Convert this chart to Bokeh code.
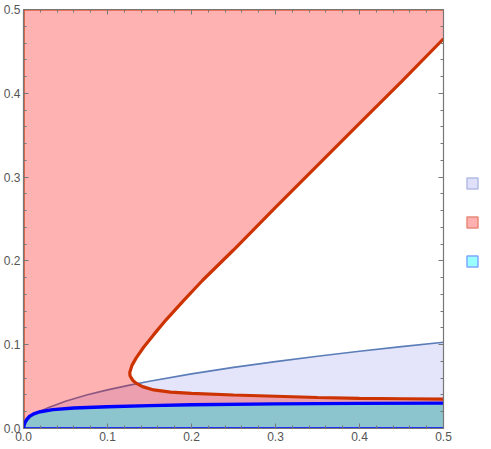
from bokeh.plotting import figure
from bokeh.models import Range1d, FixedTicker, LinearAxis
from bokeh.layouts import row
from bokeh.embed import file_html
from bokeh.resources import INLINE

# ---------------- data ----------------
x_min, x_max = 0.0, 0.5
y_min, y_max = 0.0, 0.5

major_ticks = [0.0, 0.1, 0.2, 0.3, 0.4, 0.5]
minor_ticks = [0.02, 0.04, 0.06, 0.08, 0.12, 0.14, 0.16, 0.18, 0.22, 0.24, 0.26,
               0.28, 0.32, 0.34, 0.36, 0.38, 0.42, 0.44, 0.46, 0.48]
tick_labels = ["0.0", "0.1", "0.2", "0.3", "0.4", "0.5"]

# lavender region upper boundary
lav_x = [0.0, 0.002, 0.005, 0.01, 0.02, 0.03, 0.05, 0.075, 0.1, 0.125, 0.15, 0.2,
         0.25, 0.3, 0.35, 0.4, 0.45, 0.5]
lav_y = [0.0, 0.0065, 0.0103, 0.0146, 0.0206, 0.0252, 0.0326, 0.0399, 0.0461,
         0.0515, 0.0564, 0.0652, 0.0729, 0.0798, 0.0862, 0.0921, 0.0977, 0.103]

# blue (cyan region) upper boundary
blue_x = [0.0, 0.0005, 0.001, 0.002, 0.004, 0.007, 0.012, 0.02, 0.035, 0.06, 0.1,
          0.15, 0.2, 0.3, 0.4, 0.5]
blue_y = [0.0, 0.003, 0.005, 0.0075, 0.0110, 0.0145, 0.0175, 0.0200, 0.0225,
          0.0245, 0.0260, 0.0273, 0.0283, 0.0294, 0.0300, 0.0303]

# red curve (upper branch -> nose -> lower branch)
red_x = [0.5, 0.45, 0.4, 0.35, 0.3, 0.25, 0.213, 0.19, 0.17, 0.155, 0.143, 0.134,
         0.129, 0.1265, 0.1268, 0.1285, 0.1306, 0.135, 0.1417, 0.155, 0.175, 0.2,
         0.25, 0.3, 0.35, 0.4, 0.45, 0.5]
red_y = [0.465, 0.414, 0.364, 0.314, 0.264, 0.213, 0.1766, 0.152, 0.13, 0.112,
         0.097, 0.084, 0.075, 0.067, 0.063, 0.060, 0.057, 0.0535, 0.050, 0.046,
         0.0435, 0.042, 0.040, 0.0385, 0.037, 0.036, 0.0355, 0.035]

# legend swatches (top to bottom), no labels in the reference
legend_slots = [2, 1, 0]
legend_fill = ["#E0E0FA", "#FFB0B0", "#99FFFF"]
legend_edge = ["#B3BCE8", "#E88A7A", "#7FA8FF"]

# ---------------- styles ----------------
LAV_FILL, LAV_ALPHA = "#A5A5EE", 0.3
RED_FILL, RED_ALPHA = "#FF0000", 0.3
CYAN_FILL, CYAN_ALPHA = "#00FFFF", 0.4
LAV_LINE = "#5B7DB8"
RED_LINE = "#CC3300"
BLUE_LINE = "#0000FF"
GRAY = "#777777"
FONT = "Liberation Sans"

FRAME_H = 419
p = figure(frame_width=420, frame_height=FRAME_H, output_backend="svg",
           toolbar_location=None, x_range=Range1d(x_min, x_max),
           y_range=Range1d(y_min, y_max), min_border_left=0, min_border_right=10,
           min_border_top=9, min_border_bottom=0)
p.grid.visible = False
p.outline_line_color = None
p.background_fill_color = "white"

# lavender region
p.patch(lav_x + [x_max, x_min], lav_y + [y_min, y_min], fill_color=LAV_FILL,
        fill_alpha=LAV_ALPHA, line_color=None)
p.line(lav_x, lav_y, line_color=LAV_LINE, line_width=1.6)

# red region: left of / below the red curve
red_px = [x_min, x_min, x_max] + red_x + [x_max]
red_py = [y_min, y_max, y_max] + red_y + [y_min]
p.patch(red_px, red_py, fill_color=RED_FILL, fill_alpha=RED_ALPHA, line_color=None)

# cyan region
p.patch(blue_x + [x_max, x_min], blue_y + [y_min, y_min], fill_color=CYAN_FILL,
        fill_alpha=CYAN_ALPHA, line_color=None)

# boundaries
p.line([x_min, x_min, x_max], [y_min, y_max, y_max], line_color=RED_LINE,
       line_width=2.2)
p.line(red_x, red_y, line_color=RED_LINE, line_width=3.2)
p.line([x_min, x_max], [y_min, y_min], line_color=BLUE_LINE, line_width=2.4)
p.line(blue_x, blue_y, line_color=BLUE_LINE, line_width=3.4)


def style_axis(ax, labels=True):
    ax.ticker = FixedTicker(ticks=major_ticks, minor_ticks=minor_ticks)
    ax.axis_line_color = GRAY
    ax.axis_line_width = 1.2
    ax.major_tick_line_color = GRAY
    ax.minor_tick_line_color = GRAY
    ax.major_tick_in = 5
    ax.major_tick_out = 0
    ax.minor_tick_in = 3
    ax.minor_tick_out = 0
    if labels:
        ax.major_label_overrides = dict(zip(major_ticks, tick_labels))
        ax.major_label_text_font = FONT
        ax.major_label_text_font_size = "12px"
        ax.major_label_text_color = "#555555"
        ax.major_label_standoff = 3
    else:
        ax.major_label_overrides = {t: "" for t in major_ticks}
        ax.major_label_standoff = 0


style_axis(p.xaxis[0])
style_axis(p.yaxis[0])
top_ax = LinearAxis()
right_ax = LinearAxis()
style_axis(top_ax, labels=False)
style_axis(right_ax, labels=False)
p.add_layout(top_ax, "above")
p.add_layout(right_ax, "right")

# legend panel (swatches only); its frame is aligned with the main frame
MID = 213.0   # middle swatch, px below frame top
STEP = 39.0   # px between swatches
leg = figure(frame_width=32, frame_height=FRAME_H, output_backend="svg",
             toolbar_location=None, x_range=Range1d(-19, 13),
             y_range=Range1d(1 - (FRAME_H - MID) / STEP, 1 + MID / STEP),
             min_border=0, x_axis_type=None, y_axis_type=None)
leg.grid.visible = False
leg.outline_line_color = None
leg.rect(x=[0, 0, 0], y=legend_slots, width=11, height=11, width_units="screen",
         height_units="screen", fill_color=legend_fill, line_color=legend_edge,
         line_width=1.5)

layout = row(p, leg, spacing=0)
open("out.html", "w").write(file_html(layout, INLINE))
